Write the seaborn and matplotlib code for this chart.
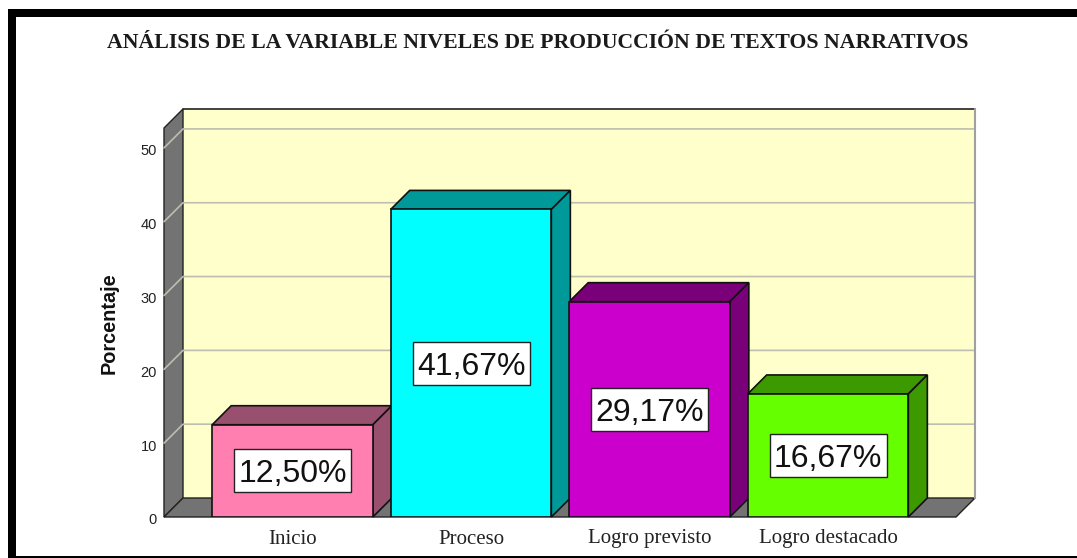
from matplotlib import pyplot as plt
from matplotlib.patches import Polygon, Rectangle
from matplotlib.transforms import ScaledTranslation
import seaborn as sns
import pandas as pd

niveles = ["Inicio", "Proceso", "Logro previsto", "Logro destacado"]
porcentajes = [12.50, 41.67, 29.17, 16.67]
etiquetas = ["12,50%", "41,67%", "29,17%", "16,67%"]
yticks = [0, 10, 20, 30, 40, 50]
frente = ["#FF80B0", "#00FFFF", "#CC00CC", "#66FF00"]
lado = ["#99506E", "#009999", "#7A007A", "#3D9900"]
titulo = "ANÁLISIS DE LA VARIABLE NIVELES DE PRODUCCIÓN DE TEXTOS NARRATIVOS"

W, H = 1077, 558
sns.set_theme(style="white")
plt.rcParams["font.family"] = ["Liberation Sans", "DejaVu Sans"]

fig = plt.figure(figsize=(W / 100, H / 100), dpi=100, facecolor="white")
ax = fig.add_axes([164 / W, (H - 517) / H, 792 / W, 389 / H])
ax.patch.set_alpha(0)

d = pd.DataFrame({"nivel": niveles, "pct": porcentajes})
sns.barplot(data=d, x="nivel", y="pct", hue="nivel", palette=frente, order=niveles,
            width=0.9, saturation=1, edgecolor="#111111", linewidth=1.2, legend=False, ax=ax, zorder=5)

ax.set_xlim(-0.72, 3.717)
ax.set_ylim(0, 52.7)
dx = 19 / 178.5
dy = 19 / 7.38
xmin, xmax = ax.get_xlim()
ymax = ax.get_ylim()[1]


def poli(puntos, color, edge="#222222", lw=1.0, z=1):
    ax.add_patch(Polygon(puntos, closed=True, facecolor=color, edgecolor=edge, linewidth=lw,
                         zorder=z, clip_on=False))


# paredes
poli([(xmin + dx, dy), (xmax + dx, dy), (xmax + dx, ymax + dy), (xmin + dx, ymax + dy)], "#FFFFCC", edge="none")
poli([(xmin, 0), (xmin + dx, dy), (xmin + dx, ymax + dy), (xmin, ymax)], "#737373")
poli([(xmin, 0), (xmax, 0), (xmax + dx, dy), (xmin + dx, dy)], "#737373")
ax.plot([xmin + dx, xmax + dx], [ymax + dy] * 2, color="#222222", lw=1.2, zorder=3, clip_on=False)
ax.plot([xmax + dx, xmax + dx], [dy, ymax + dy], color="#A0A0A0", lw=1.5, zorder=3, clip_on=False)

# rejilla
for t in yticks[1:]:
    ax.plot([xmin, xmin + dx, xmax + dx], [t, t + dy, t + dy], color="#BDBDB0", lw=1.2, zorder=2, clip_on=False)

# caras 3d y etiquetas
caja_w = 117 / 178.5
caja_h = 43 / 7.38
for p, c, e in zip(ax.patches, lado, etiquetas):
    x0, w, h = p.get_x(), p.get_width(), p.get_height()
    x1 = x0 + w
    poli([(x0, h), (x1, h), (x1 + dx, h + dy), (x0 + dx, h + dy)], c, edge="#111111", lw=1.2, z=4)
    poli([(x1, 0), (x1 + dx, dy), (x1 + dx, h + dy), (x1, h)], c, edge="#111111", lw=1.2, z=4)
    xc = x0 + w / 2
    ax.add_patch(Rectangle((xc - caja_w / 2, h / 2 - caja_h / 2), caja_w, caja_h, facecolor="white",
                           edgecolor="#222222", linewidth=1, zorder=6))
    ax.text(xc, h / 2, e, ha="center", va="center_baseline", fontsize=23, color="#111111", zorder=7)

sns.despine(ax=ax, left=True, bottom=True)
ax.set_yticks(yticks)
ax.tick_params(axis="y", length=0, pad=5, labelsize=10.5, labelcolor="#222222")
ax.tick_params(axis="x", length=0, pad=9, labelsize=15, labelcolor="#222222")
for lab in ax.get_xticklabels():
    lab.set_family(["Liberation Serif", "DejaVu Serif"])
bajar = ScaledTranslation(0, -2 / 100, fig.dpi_scale_trans)
for lab in ax.get_yticklabels():
    lab.set_transform(lab.get_transform() + bajar)
ax.set_xlabel("")
ax.set_ylabel("")
fig.text(109 / W, 1 - 323.5 / H, "Porcentaje", rotation=90, ha="center", va="center",
         fontsize=14.3, fontweight="bold", color="#111111")
fig.text(537.5 / W, 1 - 42.5 / H, titulo, ha="center", va="center", fontsize=15.7, fontweight="bold",
         color="#1a1a1a", family=["Liberation Serif", "DejaVu Serif"])

# marco
fig.add_artist(Rectangle((8 / W, 1 - 17 / H), (W - 8) / W, 8 / H, transform=fig.transFigure, color="black", lw=0))
fig.add_artist(Rectangle((8 / W, 0), 8 / W, 1 - 9 / H, transform=fig.transFigure, color="black", lw=0))
fig.add_artist(Rectangle((8 / W, 0), (W - 8) / W, 2 / H, transform=fig.transFigure, color="black", lw=0))

fig.savefig("out.png", dpi=100)
